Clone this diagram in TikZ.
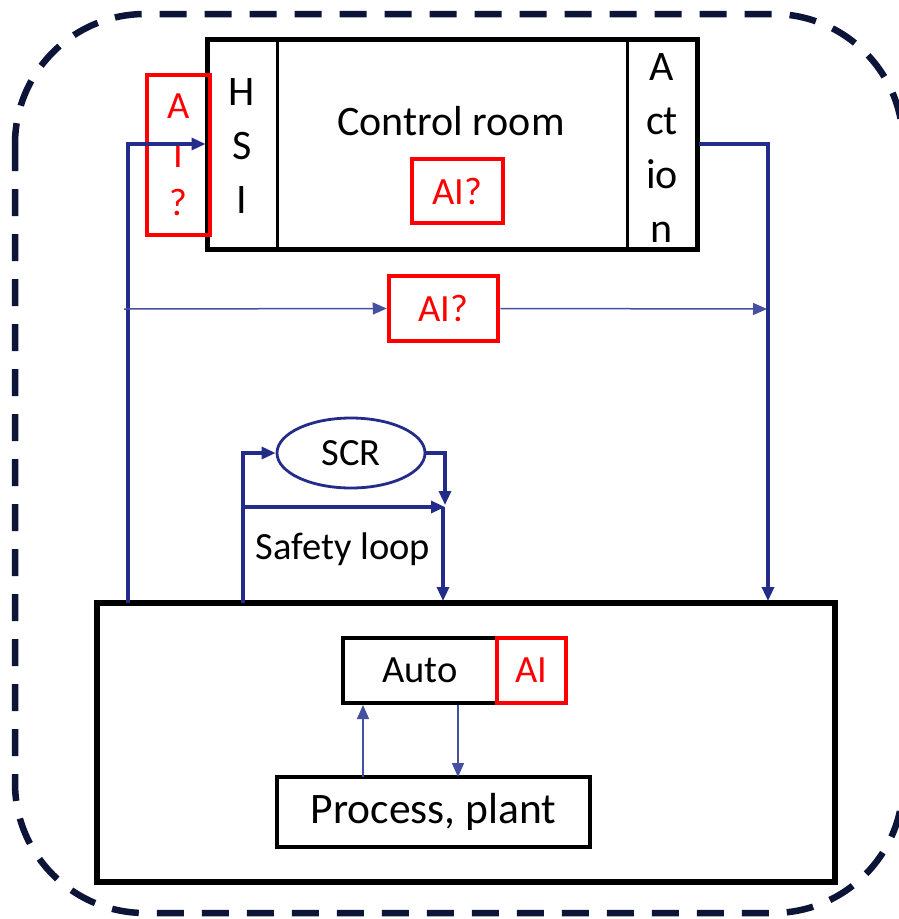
\documentclass[tikz,border=0pt]{standalone}
\usepackage{fontspec}
\setmainfont{Carlito}
\usetikzlibrary{arrows.meta,shapes.geometric}
\definecolor{navy}{RGB}{12,20,56}
\definecolor{lineblue}{RGB}{36,44,138}
\definecolor{thinblue}{RGB}{70,80,160}
\definecolor{aired}{RGB}{255,0,0}
\begin{document}
\begin{tikzpicture}[x=1pt,y=-1pt,
  blackbox/.style={draw=black, line width=4pt, inner sep=0pt},
  redbox/.style={draw=aired, text=aired, line width=4.5pt, inner sep=0pt},
  colbox/.style={draw=black, line width=3pt, inner sep=0pt},
  coltext/.style={inner sep=0pt, align=center},
  fbig/.style={font=\fontsize{42}{51}\selectfont},
  fbigst/.style={font=\fontsize{42}{54}\selectfont},
  fmid/.style={font=\fontsize{38.5}{46}\selectfont},
  fmidst/.style={font=\fontsize{38.5}{48.5}\selectfont},
  thk/.style={draw=lineblue, line width=3.2pt, -{Triangle[length=14pt,width=12pt]}},
  thn/.style={draw=thinblue, line width=1.5pt, -{Triangle[length=14pt,width=12pt]}, color=thinblue},
  frame/.style={draw=navy, line width=6.5pt, dash pattern=on 27pt off 18pt, rounded corners=130pt}
]
\clip (0,0) rectangle (899,919);
\fill[white] (0,0) rectangle (899,919);
\draw[frame] (15,14) rectangle (903,913);

% control room
\node[colbox, minimum width=70pt, minimum height=210pt] (hsi) at (242,144) {};
\node[colbox, minimum width=70pt, minimum height=210pt] (act) at (662,144) {};
\node[coltext, fbigst] (hsit) at (242,146) {H\\S\\I};
\node[coltext, fbigst] (actt) at (662,148) {A\\ct\\io\\n};
\node[draw=black, line width=5pt, minimum width=490pt, minimum height=210pt, inner sep=0pt] (cr) at (452,144) {};
\node[fbig, anchor=base, inner sep=0pt] (crt) at (451,135) {Control room};
\node[redbox, fmid, minimum width=91pt, minimum height=64pt] (aicr) at (457.5,191) {AI?};
\node[redbox, fmidst, minimum width=63pt, minimum height=160pt, align=center] (aihsi) at (178.5,155) {A\\I\\?};

% middle AI
\node[redbox, fmid, minimum width=109pt, minimum height=65pt] (aimid) at (443.5,308.5) {AI?};

% plant
\node[draw=black, line width=5.5pt, minimum width=738pt, minimum height=279pt, inner sep=0pt] (plant) at (466,742.5) {};
\node[blackbox, fmid, minimum width=154pt, minimum height=65pt] (auto) at (420,670.5) {Auto};
\node[redbox, fmid, line width=4pt, minimum width=69pt, minimum height=65pt] (aiauto) at (531.5,670.5) {AI};
\node[blackbox, font=\fontsize{43.5}{52}\selectfont, minimum width=313pt, minimum height=70pt] (proc) at (433.5,812) {Process, plant};

% safety loop
\node[ellipse, draw=lineblue, line width=2.8pt, fmid, minimum width=148pt, minimum height=70pt, inner sep=0pt] (scr) at (351,453) {SCR};
\node[fmid, inner sep=0pt] (sl) at (343,549) {Safety loop};

% coordinates
\coordinate (l1) at (128,603);
\coordinate (m0) at (124,309);
\coordinate (m1) at (767,309);
\coordinate (r1) at (768,601);
\coordinate (s0) at (243,603);
\coordinate (s1) at (445,505);
\coordinate (s2) at (445,507);
\coordinate (s2b) at (443,507);
\coordinate (s3) at (443,601);
\coordinate (sj) at (243,507);
\coordinate (pa) at (363,777);
\coordinate (pb) at (458,777);

% connectors
\draw[thk] (l1) |- (hsi.west);
\draw[thn] (m0) -- (aimid.west);
\draw[thn] (aimid.east) -- (m1);
\draw[thk] (act.east) -| (r1);
\draw[thk] (s0) |- (scr.west);
\draw[thk] (scr.east) -| (s1);
\draw[thk] (sj) -- (s2);
\draw[thk] (s2b) -- (s3);
\draw[thn] (pa) -- (auto.south -| pa);
\draw[thn] (auto.south -| pb) -- (pb);
\end{tikzpicture}
\end{document}
